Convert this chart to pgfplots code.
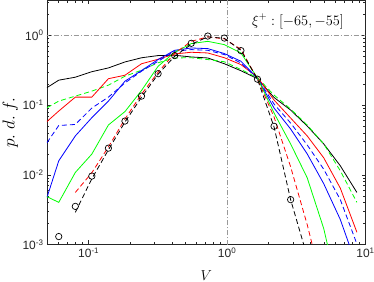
\documentclass[border=0pt]{standalone}
\usepackage{pgfplots}
\pgfplotsset{compat=1.18}
\usepackage{fontspec}
\newfontfamily\hv{Liberation Sans}
\definecolor{mgreen}{rgb}{0,1,0}
\definecolor{axgray}{rgb}{0.15,0.15,0.15}
\definecolor{refgray}{rgb}{0.6,0.6,0.6}
\begin{document}
\begin{tikzpicture}
\begin{axis}[
  name=ax,
  scale only axis,
  width=318.5pt, height=244pt,
  xmode=log, ymode=log,
  xmin=0.05, xmax=10,
  ymin=0.001, ymax=3.1623,
  axis line style={axgray, line width=0.5pt},
  every tick/.style={axgray, line width=0.5pt},
  major tick length=4pt, minor tick length=2.3pt,
  tick align=inside,
  xtick={0.1,1,10},
  xticklabels={{10\textsuperscript{-1}},{10\textsuperscript{0}},{10\textsuperscript{1}}},
  minor xtick={0.06,0.07,0.08,0.09,0.2,0.3,0.4,0.5,0.6,0.7,0.8,0.9,2,3,4,5,6,7,8,9},
  ytick={0.001,0.01,0.1,1},
  yticklabels={{10\textsuperscript{-3}},{10\textsuperscript{-2}},{10\textsuperscript{-1}},{10\textsuperscript{0}}},
  minor ytick={0.002,0.003,0.004,0.005,0.006,0.007,0.008,0.009,0.02,0.03,0.04,0.05,0.06,0.07,0.08,0.09,0.2,0.3,0.4,0.5,0.6,0.7,0.8,0.9,2,3},
  tick label style={font=\fontsize{12}{14}\selectfont\hv, text=axgray},
  xlabel={$V$},
  ylabel={$p.\;d.\;f.$},
  every axis x label/.style={at={(axis description cs:0.5,-0.128)}, anchor=center, font=\fontsize{15}{17}\selectfont},
  every axis y label/.style={at={(axis description cs:-0.115,0.5)}, anchor=center, rotate=90, font=\fontsize{16}{18}\selectfont},
  clip=true,
]
% reference lines
\addplot[refgray, line width=0.9pt, dash pattern=on 5pt off 2pt on 1pt off 2pt] coordinates {(1,0.0005) (1,5)};
\addplot[refgray, line width=0.9pt, dash pattern=on 5pt off 2pt on 1pt off 2pt] coordinates {(0.04,1) (12,1)};
% black solid
\addplot[black, line width=0.8pt] coordinates {
(0.05,0.178) (0.0608,0.2276) (0.0801,0.251) (0.1054,0.301) (0.1389,0.341) (0.1830,0.4154)
(0.2410,0.477) (0.3174,0.5129) (0.4182,0.518) (0.5508,0.49) (0.7254,0.4738) (0.9559,0.3915)
(1.259,0.311) (1.658,0.239) (2.185,0.1285) (2.878,0.0848) (3.792,0.0501) (4.993,0.0277)
(6.578,0.01345) (8.666,0.00558)};
% green dashed
\addplot[mgreen, line width=0.8pt, dash pattern=on 5pt off 3pt] coordinates {
(0.05,0.0915) (0.0608,0.114) (0.0801,0.1345) (0.1054,0.1585) (0.1389,0.193) (0.1830,0.2596)
(0.2410,0.316) (0.3174,0.4046) (0.4182,0.474) (0.5508,0.4775) (0.7254,0.4498) (0.9559,0.418)
(1.259,0.3236) (1.658,0.247) (2.185,0.139) (2.878,0.0877) (3.792,0.0518) (4.993,0.0277)
(6.578,0.0114) (8.666,0.00402)};
% red solid
\addplot[red, line width=0.8pt] coordinates {
(0.05,0.0581) (0.0608,0.0821) (0.0801,0.13) (0.1054,0.13) (0.1389,0.239) (0.1830,0.268)
(0.2410,0.3915) (0.3174,0.454) (0.4182,0.541) (0.5508,0.572) (0.7254,0.559) (0.9559,0.4775)
(1.259,0.381) (1.658,0.251) (2.185,0.118) (2.878,0.0652) (3.792,0.0361) (4.993,0.0175)
(6.578,0.00642) (8.666,0.0015)};
% blue dashed
\addplot[blue, line width=0.8pt, dash pattern=on 5pt off 3pt] coordinates {
(0.05,0.0289) (0.0608,0.0509) (0.0801,0.0527) (0.1054,0.0906) (0.1389,0.13) (0.1830,0.208)
(0.2410,0.306) (0.3174,0.4254) (0.4182,0.591) (0.5508,0.625) (0.7254,0.6105) (0.9559,0.53)
(1.259,0.402) (1.658,0.243) (2.185,0.1033) (2.878,0.0553) (3.792,0.0268) (4.993,0.0120)
(6.578,0.0044) (8.666,0.00102)};
% blue solid
\addplot[blue, line width=0.8pt] coordinates {
(0.05,0.00474) (0.0608,0.01585) (0.0801,0.0361) (0.1054,0.0659) (0.1389,0.114) (0.1830,0.2202)
(0.2410,0.313) (0.3174,0.4498) (0.4182,0.6105) (0.5508,0.659) (0.7254,0.6456) (0.9559,0.548)
(1.259,0.4254) (1.658,0.243) (2.185,0.0906) (2.878,0.0454) (3.792,0.01995) (4.993,0.00744)
(6.578,0.00228) (8.666,0.000485)};
% green solid
\addplot[mgreen, line width=0.8pt] coordinates {
(0.05,0.00485) (0.0608,0.00402) (0.0801,0.0108) (0.1054,0.0198) (0.1389,0.0518) (0.1830,0.0807)
(0.2410,0.162) (0.3174,0.36) (0.4182,0.572) (0.5508,0.761) (0.7254,0.821) (0.9559,0.736)
(1.259,0.559) (1.658,0.2455) (2.185,0.0769) (2.878,0.0277) (3.792,0.00906) (4.993,0.00169)
(6.578,0.000158)};
% red dashed
\addplot[red, line width=0.8pt, dash pattern=on 5pt off 3pt] coordinates {
(0.0801,0.00558) (0.1054,0.0107) (0.1389,0.0251) (0.1830,0.0631) (0.2410,0.1436) (0.3174,0.296)
(0.4182,0.553) (0.5508,0.821) (0.7254,0.952) (0.9559,0.891) (1.259,0.631) (1.658,0.235)
(2.185,0.0674) (2.878,0.0130) (3.792,0.00193) (4.993,0.00022)};
% black dashed
\addplot[black, line width=0.8pt, dash pattern=on 5pt off 3pt] coordinates {
(0.0801,0.00289) (0.1054,0.00877) (0.1389,0.0228) (0.1830,0.0572) (0.2410,0.13) (0.3174,0.2773)
(0.4182,0.501) (0.5508,0.7436) (0.7254,0.952) (0.9559,0.906) (1.259,0.6105) (1.658,0.235)
(2.185,0.0485) (2.878,0.0044) (3.792,0.000674)};
% circles
\addplot[only marks, mark=o, mark size=3.2pt, black, line width=0.7pt] coordinates {
(0.0608,0.0013) (0.0801,0.00352) (0.1054,0.00958) (0.1389,0.0241) (0.1830,0.059) (0.2410,0.1345)
(0.3174,0.2818) (0.4182,0.5129) (0.5508,0.769) (0.7254,0.977) (0.9559,0.915) (1.259,0.6044)
(1.658,0.235) (2.185,0.0496) (2.878,0.0044)};
\node[font=\fontsize{14}{16}\selectfont, inner sep=1pt] at (axis cs:3.25,1.585) {$\xi^+ : [-65, -55]$};
\end{axis}
\pgfresetboundingbox
\path[use as bounding box] ([xshift=-47pt,yshift=-37.5pt]ax.south west) rectangle ([xshift=8.5pt,yshift=0.5pt]ax.north east);
\end{tikzpicture}
\end{document}
